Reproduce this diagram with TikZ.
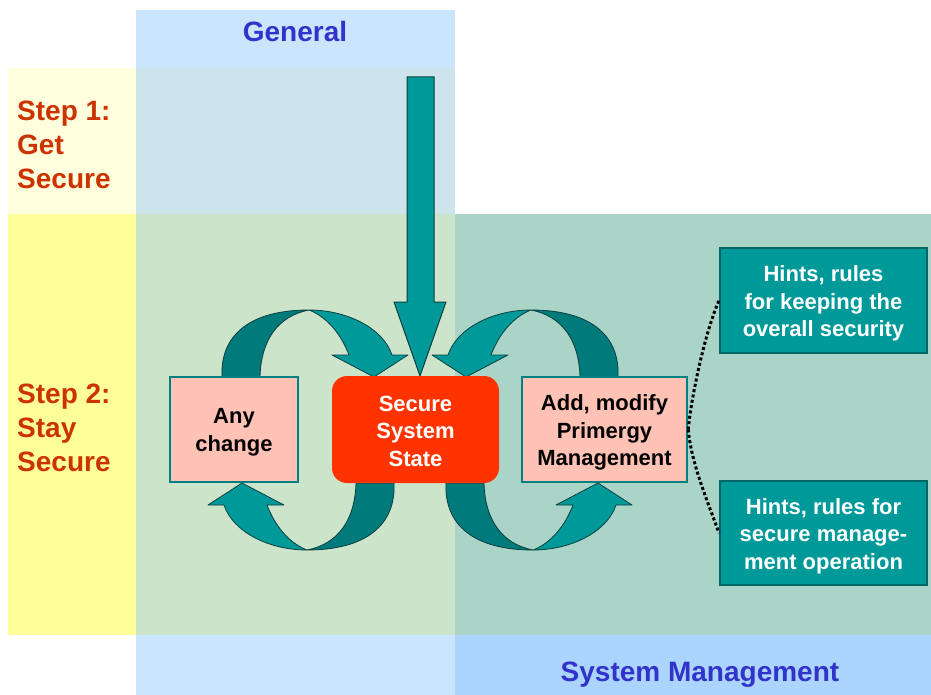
\documentclass[tikz,border=0pt]{standalone}
\usepackage{fontspec}
\setmainfont{Liberation Sans}
\definecolor{bgStepOne}{HTML}{FFFFDD}
\definecolor{bgStepTwo}{HTML}{FFFF99}
\definecolor{bgGen}{HTML}{CCE5FF}
\definecolor{bgGenOne}{HTML}{CDE5EA}
\definecolor{bgGenTwo}{HTML}{CCE4C9}
\definecolor{bgSys}{HTML}{ABD5FF}
\definecolor{bgSysTwo}{HTML}{AAD4C8}
\definecolor{tealLight}{HTML}{009999}
\definecolor{tealDark}{HTML}{007A7A}
\definecolor{tealEdge}{HTML}{0A3F3F}
\definecolor{boxPink}{HTML}{FFC2B4}
\definecolor{boxEdge}{HTML}{008080}
\definecolor{secRed}{HTML}{FF3300}
\definecolor{stepRed}{HTML}{CC3300}
\definecolor{titleBlue}{HTML}{3333CC}
\definecolor{hintEdge}{HTML}{006666}
\newcommand\curlyarrowshape{%
  \filldraw[fill=tealDark, draw=tealEdge, line width=0.8pt]
    (222,377) .. controls (220,335) and (250,310) .. (309,310)
    .. controls (278,316) and (261,340) .. (260,377) -- cycle;
  \filldraw[fill=tealLight, draw=tealEdge, line width=0.8pt, line join=round]
    (309,310) .. controls (347,310) and (383,328) .. (392,355)
    -- (408,355) -- (374,377) -- (332,355) -- (349,355)
    .. controls (341,334) and (327,317) .. (309,310) -- cycle;
}
\begin{document}
\begin{tikzpicture}[x=1pt,y=-1pt,
  steptext/.style={text=stepRed, font=\fontsize{28}{34}\selectfont\bfseries, align=left, inner sep=0pt, anchor=west},
  titletext/.style={text=titleBlue, font=\fontsize{28}{34}\selectfont\bfseries, inner sep=0pt},
  pinkbox/.style={fill=boxPink, draw=boxEdge, line width=2.5pt, inner sep=0pt},
  securebox/.style={fill=secRed, rounded corners=15pt, inner sep=0pt},
  hintbox/.style={fill=tealLight, draw=hintEdge, line width=2pt, inner sep=0pt,
    minimum width=207pt, minimum height=105pt},
  boxtext/.style={align=center, inner sep=0pt, font=\fontsize{22}{27.5}\selectfont\bfseries},
  darktext/.style={boxtext, text=black},
  lighttext/.style={boxtext, text=white},
  dotline/.style={line width=3pt, dash pattern=on 3pt off 2.4pt, draw=black}
]
\useasboundingbox (0,0) rectangle (931,695);
\fill[white] (0,0) rectangle (931,695);
% background bands
\fill[bgStepOne] (8,68) rectangle (136,214);
\fill[bgStepTwo] (8,214) rectangle (136,635);
\fill[bgGen] (136,10) rectangle (455,68);
\fill[bgGenOne] (136,68) rectangle (455,214);
\fill[bgGenTwo] (136,214) rectangle (455,635);
\fill[bgGen] (136,635) rectangle (455,695);
\fill[bgSysTwo] (455,214) rectangle (931,635);
\fill[bgSys] (455,635) rectangle (931,695);
% titles
\node[titletext] (gen) at (295,31) {General};
\node[titletext] (sysman) at (700,675) {System Management};
\node[steptext] (s1) at (17,144.5) {Step 1:\\Get\\Secure};
\node[steptext] (s2) at (17,427.5) {Step 2:\\Stay\\Secure};
% curved arrows
\curlyarrowshape
\begin{scope}[xshift=840pt, xscale=-1]\curlyarrowshape\end{scope}
\begin{scope}[shift={(616,860)}, scale=-1]\curlyarrowshape\end{scope}
\begin{scope}[shift={(224,860)}, yscale=-1]\curlyarrowshape\end{scope}
% big down arrow
\filldraw[fill=tealLight, draw=tealEdge, line width=1pt, line join=miter]
  (407,77) -- (434,77) -- (434,302) -- (446,302) -- (420,376) -- (394,302) -- (407,302) -- cycle;
% boxes
\node[pinkbox, minimum width=128pt, minimum height=105pt] (any) at (234,429.5) {};
\node[darktext] (anyT) at ([yshift=-3pt]any.center) {Any\\change};
\node[securebox, minimum width=167pt, minimum height=107pt] (sec) at (415.5,429.5) {};
\node[lighttext] (secT) at ([yshift=-1.5pt]sec.center) {Secure\\System\\State};
\node[pinkbox, minimum width=165pt, minimum height=105pt] (add) at (604.5,429.5) {};
\node[darktext] (addT) at ([yshift=-3pt]add.center) {Add, modify\\Primergy\\Management};
\node[hintbox] (h1) at (823.5,300.5) {};
\node[lighttext] (h1T) at ([yshift=-3pt]h1.center) {Hints, rules\\for keeping the\\overall security};
\node[hintbox, minimum height=104pt] (h2) at (823.5,533) {};
\node[lighttext] (h2T) at ([yshift=-3pt]h2.center) {Hints, rules for\\secure manage-\\ment operation};
% dotted connectors
\draw[dotline] (add.east) .. controls (691,398) and (705,332) .. (h1.west);
\draw[dotline] (add.east) .. controls (691,462) and (707,500) .. (h2.west);
\end{tikzpicture}
\end{document}
